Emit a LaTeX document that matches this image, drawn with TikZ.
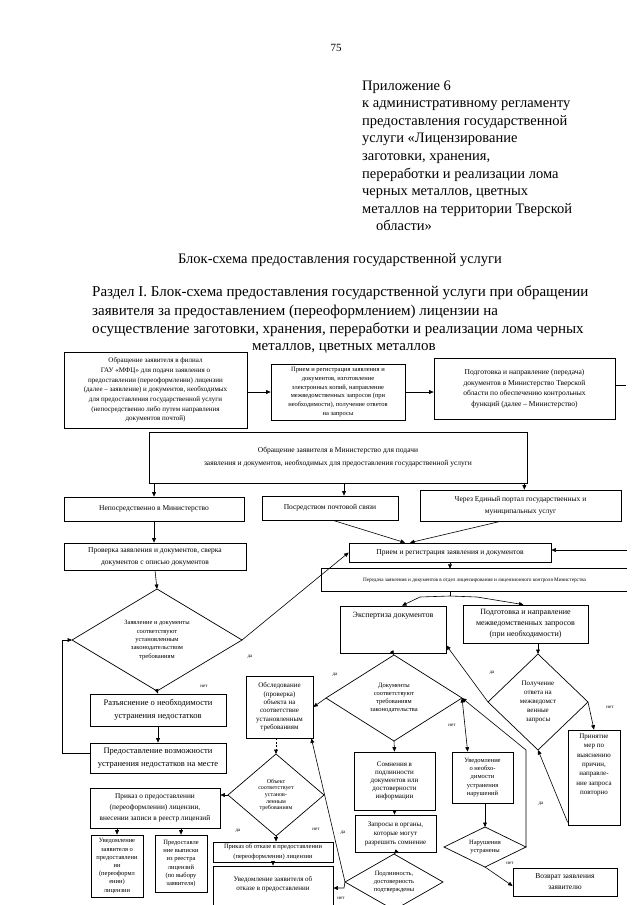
\documentclass[tikz,border=0pt]{standalone}
\usepackage{fontspec}
\setmainfont{Liberation Serif}
\usetikzlibrary{arrows.meta,calc}
\newcommand\fsz[2]{\fontsize{#1}{#2}\selectfont}
% #1 opts, #2 name, #3 x1, #4 y1, #5 x2, #6 y2, #7 text
\newcommand\rbox[7][]{\node[box,minimum width={(#5-#3)*1pt},minimum height={(#6-#4)*1pt},#1] (#2) at ({(#3+#5)/2},{(#4+#6)/2}) {#7};}
% #1 opts, #2 name, #3 cx, #4 cy, #5 hw, #6 hh, #7 text
\newcommand\dmd[7][]{%
 \coordinate (#2-t) at (#3,#4-#6);
 \coordinate (#2-b) at (#3,#4+#6);
 \coordinate (#2-l) at (#3-#5,#4);
 \coordinate (#2-r) at (#3+#5,#4);
 \draw[dline] (#2-t) -- (#2-r) -- (#2-b) -- (#2-l) -- cycle;
 \node[dtext,#1] (#2) at (#3,#4) {#7};}
\begin{document}
\begin{tikzpicture}[x=1pt,y=-1pt,
 box/.style={draw,line width=0.7pt,inner sep=1pt,align=center},
 dline/.style={line width=0.7pt},
 dtext/.style={align=center,inner sep=0pt},
 arr/.style={line width=0.6pt,-{Triangle[length=4.5pt,width=3.8pt]}},
 dbl/.style={line width=0.6pt,{Triangle[length=4.5pt,width=3.8pt]}-{Triangle[length=4.5pt,width=3.8pt]}},
 ln/.style={line width=0.6pt},
 lbl/.style={font=\fsz{5}{6},inner sep=0pt},
 hdr/.style={font=\fsz{14.5}{17.6},inner sep=0pt},
 sec/.style={font=\fsz{15}{18},inner sep=0pt}]
\useasboundingbox (0,0) rectangle (640,905);
\clip (0,0) rectangle (640,905);
\fill[white] (0,0) rectangle (640,905);

% header
\node[font=\fsz{11}{13}] (pg) at (336,48) {75};
\node[hdr,anchor=base west] (ap1) at (362,90) {Приложение 6};
\node[hdr,anchor=base west] (ap2) at (362,107.6) {к административному регламенту};
\node[hdr,anchor=base west] (ap3) at (362,125.2) {предоставления государственной};
\node[hdr,anchor=base west] (ap4) at (362,142.8) {услуги «Лицензирование};
\node[hdr,anchor=base west] (ap5) at (362,160.4) {заготовки, хранения,};
\node[hdr,anchor=base west] (ap6) at (362,178) {переработки и реализации лома};
\node[hdr,anchor=base west] (ap7) at (362,195.6) {черных металлов, цветных};
\node[hdr,anchor=base west] (ap8) at (362,213.2) {металлов на территории Тверской};
\node[hdr,anchor=base west] (ap9) at (376,230.8) {области»};
\node[hdr,anchor=base] (t0) at (340,263) {Блок-схема предоставления государственной услуги};
\node[sec,anchor=base west] (t1) at (92,296) {Раздел I. Блок-схема предоставления государственной услуги при обращении};
\node[sec,anchor=base west] (t2) at (92,315) {заявителя за предоставлением (переоформлением) лицензии на};
\node[sec,anchor=base west] (t3) at (92,333) {осуществление заготовки, хранения, переработки и реализации лома черных};
\node[sec,anchor=base] (t4) at (344,350) {металлов, цветных металлов};

% top row
\rbox[font=\fsz{7}{9.7}]{A}{64}{352}{247}{428}{Обращение заявителя в филиал\\ГАУ «МФЦ» для подачи заявления о\\предоставлении (переоформлении) лицензии\\(далее – заявление) и документов, необходимых\\для предоставления государственной услуги\\(непосредственно либо путем направления\\документов почтой)}
\rbox[font=\fsz{6.5}{8.7}]{B}{271}{364}{405}{420}{Прием и регистрация заявления и\\документов, изготовление\\электронных копий, направление\\межведомственных запросов (при\\необходимости), получение ответов\\на запросы}
\rbox[font=\fsz{7.5}{10.5}]{C}{434}{358}{615}{419}{Подготовка и направление (передача)\\документов в Министерство Тверской\\области по обеспечению контрольных\\функций (далее – Министерство)}
\rbox[font=\fsz{7.5}{13}]{D}{149}{432}{527}{483}{Обращение заявителя в Министерство для подачи\\заявления и документов, необходимых для предоставления государственной услуги}
\rbox[font=\fsz{7.5}{12}]{E}{64}{497}{244}{521}{Непосредственно в Министерство}
\rbox[font=\fsz{7.5}{12}]{F}{262}{496}{398}{520}{Посредством почтовой связи}
\rbox[font=\fsz{7.5}{12}]{G}{420}{490}{621}{521}{Через Единый портал государственных и\\муниципальных услуг}
\rbox[font=\fsz{7.5}{12}]{H}{64}{543}{246}{570}{Проверка заявления и документов, сверка\\документов с описью документов}
\rbox[font=\fsz{7.5}{12}]{I}{349}{543}{551}{562}{Прием и регистрация заявления и документов}
\node[minimum width=305pt,minimum height=22pt,inner sep=0pt,font=\fsz{5.2}{6}] (J) at (474.5,580) {Передача заявления и документов в отдел лицензирования и лицензионного контроля Министерства};
\draw[line width=0.7pt] (J.north east) -- (J.north west) -- (J.south west) -- (J.south east);

% left column
\dmd[font=\fsz{6.5}{8.3}]{K}{157}{640}{85}{51}{Заявление и документы\\соответствуют\\установленным\\законодательством\\требованиям}
\rbox[font=\fsz{8.5}{13}]{L}{90}{694}{226}{726}{Разъяснение о необходимости\\устранения недостатков}
\rbox[font=\fsz{8.5}{13}]{M}{90}{743}{226}{773}{Предоставление возможности\\устранения недостатков на месте}

% centre
\rbox{N}{340}{606}{446}{653}{}
\node[font=\fsz{8}{10},inner sep=0pt] (Nt) at (393,616) {Экспертиза документов};
\rbox[font=\fsz{8}{11}]{O}{463}{605}{588}{643}{Подготовка и направление\\межведомственных запросов\\(при необходимости)}
\dmd[font=\fsz{6.5}{8.3}]{P}{394}{698}{68}{43}{Документы\\соответствуют\\требованиям\\законодательства}
\rbox[font=\fsz{7}{8.4}]{Q}{246}{676}{313}{738}{Обследование\\(проверка)\\объекта на\\соответствие\\установленным\\требованиям}
\dmd[font=\fsz{7}{9}]{U}{538}{702}{50}{48}{Получение\\ответа на\\межведомст\\венные\\запросы}
\rbox{W}{568}{730}{620}{825}{}
\node[font=\fsz{7}{9.3},align=center,inner sep=0pt] (Wt) at (594,765) {Принятие\\мер по\\выяснению\\причин,\\направле-\\ние запроса\\повторно};
\rbox[font=\fsz{6.5}{8.3}]{R}{452}{752}{513}{803}{Уведомление\\о необхо-\\димости\\устранения\\нарушений}
\dmd[font=\fsz{6.5}{8}]{S}{485}{847}{41}{20}{Нарушения\\устранены}
\rbox[font=\fsz{7.5}{11}]{T}{513}{868}{617}{896}{Возврат заявления\\заявителю}
\rbox[font=\fsz{7}{8}]{AA}{354}{752}{435}{810}{Сомнения в\\подлинности\\документов или\\достоверности\\информации}
\rbox[font=\fsz{7}{9}]{BB}{355}{815}{436}{852}{Запросы в органы,\\которые могут\\разрешить сомнение}
\dmd[font=\fsz{6.5}{8}]{CC}{394}{882}{49}{28}{Подлинность,\\достоверность\\подтверждены}

% bottom left
\dmd[font=\fsz{6}{6.6}]{V}{276}{795}{48}{41}{Объект\\соответствует\\установ-\\ленным\\требованиям}
\rbox[font=\fsz{7.3}{11}]{X}{90}{788}{220}{828}{Приказ о предоставлении\\(переоформлении) лицензии,\\внесении записи в реестр лицензий}
\rbox[font=\fsz{6.5}{8.2}]{DD}{91}{835}{143}{897}{Уведомление\\заявителя о\\предоставлени\\ии\\(переоформл\\ении)\\лицензии}
\rbox[font=\fsz{6.5}{8.2}]{EE}{155}{835}{207}{892}{Предоставле\\ние выписки\\из реестра\\лицензий\\(по выбору\\заявителя)}
\rbox[font=\fsz{6.5}{10}]{Y}{213}{842}{333}{862}{Приказ об отказе в предоставлении\\(переоформлении) лицензии}
\rbox{Z}{213}{866}{333}{915}{}
\node[font=\fsz{7}{9.5},align=center,inner sep=0pt] (Zt) at (273,884) {Уведомление заявителя об\\отказе в предоставлении};

% labels
\node[lbl] (l1) at (250,657) {да};
\node[lbl] (l2) at (204,686) {нет};
\node[lbl] (l3) at (335,675) {да};
\node[lbl] (l4) at (452,725) {нет};
\node[lbl] (l5) at (492,673) {да};
\node[lbl] (l6) at (610,707) {нет};
\node[lbl] (l7) at (541,804) {да};
\node[lbl] (l8) at (238,831) {да};
\node[lbl] (l9) at (316,829) {нет};
\node[lbl] (l10) at (343,833) {да};
\node[lbl] (l11) at (341,898) {нет};
\node[lbl] (l12) at (510,863) {нет};

% connectors
\draw[arr] (A.east |- B.west) -- (B.west);
\draw[arr] (B.east) -- (B.east -| C.west);
\coordinate (Cend) at (626,385);
\draw[ln] (C.east |- Cend) -- (Cend);
\draw[arr] (E.north |- D.south) -- (E.north);
\coordinate (Ftop) at ($(F.north)+(14,0)$);
\draw[arr] (Ftop |- D.south) -- (Ftop);
\coordinate (Gtop) at ($(D.south east)+(-3,0)$);
\draw[arr] (Gtop) -- (Gtop |- G.north);
\draw[arr] (E.south) -- (E.south |- H.north);
\draw[arr] ($(F.south)+(3,0)$) -- ($(I.north)+(-45,0)$);
\draw[arr] ($(G.south)+(-20,0)$) -- ($(I.north)+(-40,0)$);
\coordinate (Iin) at (627,550);
\draw[arr] (Iin) -- (Iin -| I.east);
\draw[arr] (I.south) -- (I.south |- J.north);
\coordinate (jb) at (450,596);
\draw[ln] (J.south -| jb) -- (jb);
\draw[arr] (jb) -- ++(-30,1) -- ($(N.north)+(9,0)$);
\draw[arr] (jb) -- ++(27,1) -- ($(O.north)+(-2,0)$);
\draw[arr] (H.south) -- (K-t);
\draw[arr] (K-r) -- (I.west);
\draw[arr] (K-b) -- (L.north);
\draw[arr] (L.south) -- (M.north);
\draw[arr] ($(M.west)+(0,-5)$) -- ++(-27,0) |- (K-l);
\draw[arr] (N.south) -- (P-t);
\draw[arr] (U-t |- O.south) -- (U-t);
\draw[arr] (P-l) -- (Q.east);
\draw[dbl] (P-r) -- ($(R.north west)+(16,0)$);
\draw[arr] (S-r) -- ++(0,-97) -- (P-r);
\draw[arr] (S-t |- R.south) -- (S-t);
\draw[arr] (S-b) -- ($(T.west)+(0,4)$);
\draw[arr] (U-l) -- ($(N.south east)+(0,-8)$);
\draw[arr] (U-r) -- (W.north);
\draw[arr] ($(W.south west)+(0,-3)$) -- (U-b);
\draw[arr] (P-b) -- (AA.north);
\draw[arr] (AA.south) -- (AA.south |- BB.north);
\draw[arr] (BB.south) -- (CC-t);
\draw[arr] (CC-l) -- ($(Q.south east)+(-2,0)$);
\draw[arr] (CC-l) -- ++(-1,6) coordinate (cz) -- (cz -| Z.east);
\draw[arr,dash pattern=on 2pt off 1.5pt] (V-t |- Q.south) -- (V-t);
\draw[arr] (V-l) -- (V-l -| X.east);
\draw[arr] (V-b) -- (V-b |- Y.north);
\draw[arr] (Y.south) -- (Z.north);
\draw[arr] (DD.north |- X.south) -- (DD.north);
\draw[arr] (EE.north |- X.south) -- (EE.north);
\end{tikzpicture}
\end{document}
